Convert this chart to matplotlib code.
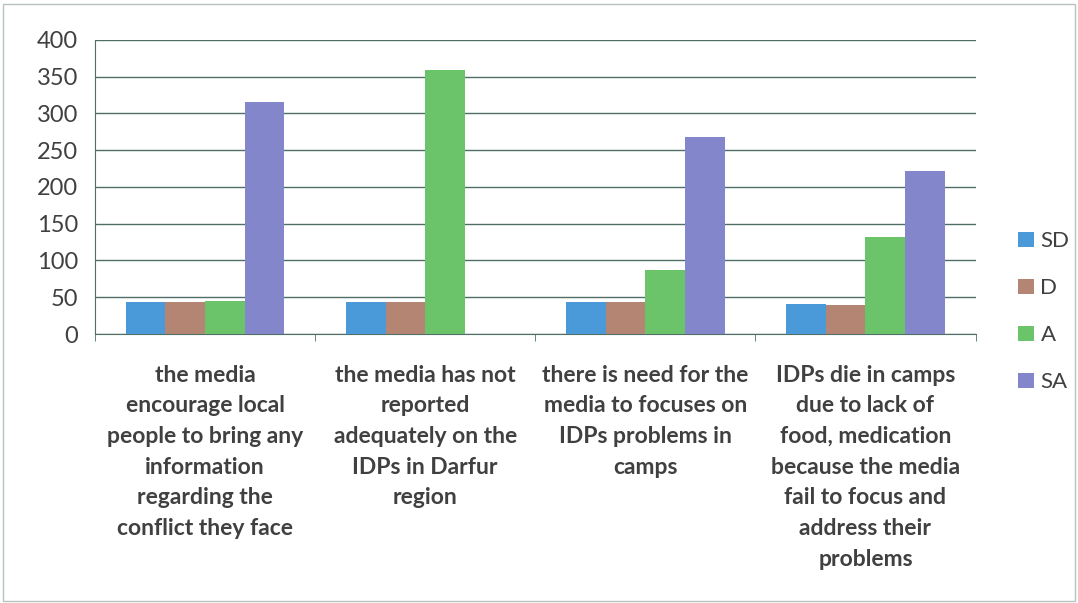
import matplotlib.pyplot as plt
import numpy as np

categories = [
    'the media\nencourage local\npeople to bring any\ninformation\nregarding the\nconflict they face',
    'the media has not\nreported\nadequately on the\nIDPs in Darfur\nregion',
    'there is need for the\nmedia to focuses on\nIDPs problems in\ncamps',
    'IDPs die in camps\ndue to lack of\nfood, medication\nbecause the media\nfail to focus and\naddress their\nproblems',
]
series_names = ['SD', 'D', 'A', 'SA']
sd_values = [44, 44, 43, 41]
d_values = [44, 44, 43, 40]
a_values = [45, 359, 87, 132]
sa_values = [315, 0, 268, 221]

colors = ['#4a9ada', '#b58574', '#6cc46a', '#8486cc']
text_color = '#404040'

plt.rcParams['font.family'] = ['Lato', 'DejaVu Sans']

fig = plt.figure(figsize=(10.78, 6.03), dpi=100)
ax = fig.add_axes([0.088, 0.446, 0.817, 0.488])

x = np.arange(len(categories))
width = 0.18
all_values = [sd_values, d_values, a_values, sa_values]
for i, (name, vals) in enumerate(zip(series_names, all_values)):
    ax.bar(x + (i - 1.5) * width, vals, width, color=colors[i], label=name, zorder=3)

ax.set_xlim(-0.5, len(categories) - 0.5)
ax.set_ylim(0, 400)
ax.set_yticks(range(0, 401, 50))
ax.yaxis.grid(True, color='#4f6e66', linewidth=1.0, zorder=0)
ax.tick_params(axis='y', length=0, labelsize=17, colors=text_color, pad=12)

ax.set_xticks(x)
ax.set_xticklabels(categories, fontsize=16.5, fontweight='bold', color=text_color, linespacing=1.57)
ax.tick_params(axis='x', length=0, pad=22)
ax.set_xticks(np.arange(-0.5, len(categories)), minor=True)
ax.tick_params(axis='x', which='minor', length=5, color='#4f6e66')

for side in ['top', 'right']:
    ax.spines[side].set_visible(False)
ax.spines['left'].set_color('#4f6e66')
ax.spines['bottom'].set_color('#4f6e66')

fig.legend(loc='center left', bbox_to_anchor=(0.926, 0.483), frameon=False,
           fontsize=16, labelspacing=1.22, handlelength=0.7, handleheight=0.7,
           handletextpad=0.3, labelcolor=text_color)

fig.patches.append(plt.Rectangle((0.003, 0.003), 0.994, 0.99, transform=fig.transFigure,
                                 fill=False, edgecolor='#b8c4c0', linewidth=1))

fig.savefig('out.png', dpi=100)
